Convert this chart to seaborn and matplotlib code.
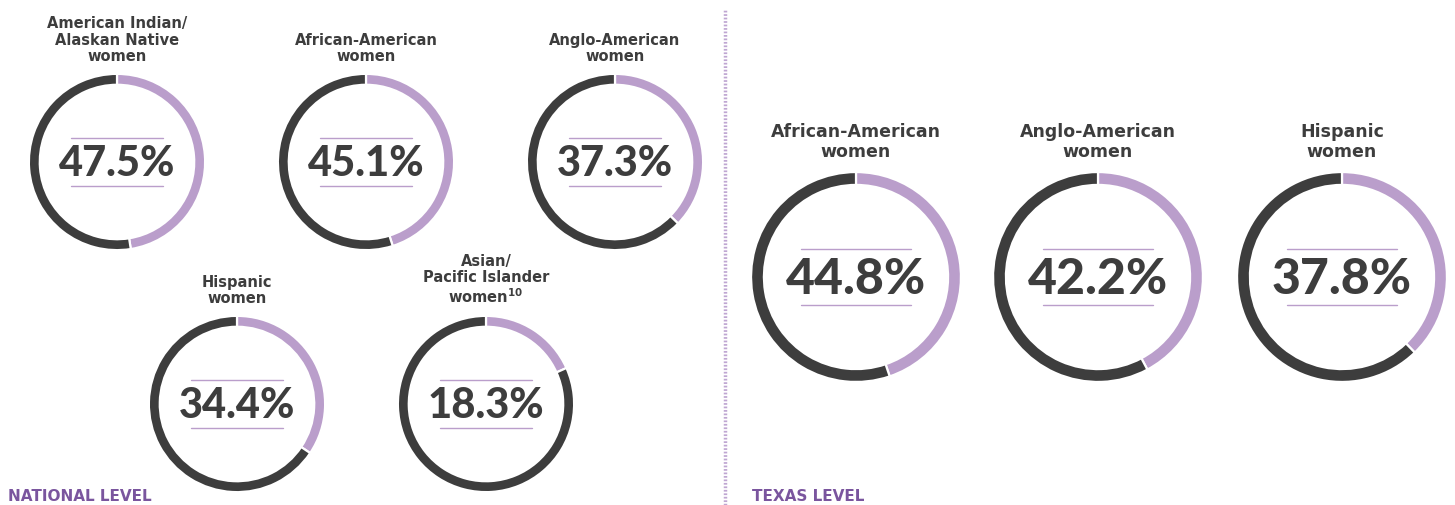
import matplotlib
matplotlib.use("Agg")
import matplotlib.pyplot as plt
import seaborn as sns

# data
national_groups = ["American Indian/\nAlaskan Native\nwomen", "African-American\nwomen",
                   "Anglo-American\nwomen", "Hispanic\nwomen",
                   "Asian/\nPacific Islander\nwomen$^{\\mathbf{10}}$"]
national_values = [47.5, 45.1, 37.3, 34.4, 18.3]
texas_groups = ["African-American\nwomen", "Anglo-American\nwomen", "Hispanic\nwomen"]
texas_values = [44.8, 42.2, 37.8]
section_labels = ["NATIONAL LEVEL", "TEXAS LEVEL"]

sns.set_style('white')
plt.rcParams['font.family'] = ['DejaVu Sans']
plt.rcParams['mathtext.fontset'] = 'dejavusans'

PURPLE = '#BA9ECB'
DARK = '#3D3D3D'
TITLE_PURPLE = '#7A559E'
W, H = 1455, 506

fig = plt.figure(figsize=(W / 100, H / 100), dpi=100)
fig.patch.set_facecolor('white')

# pixel layout (cx, cy)
nat_pos = [(117, 163), (366, 163), (615, 163), (237, 405), (486, 405)]
tex_pos = [(856, 278), (1098, 278), (1342, 278)]


def donut(cx, cy, r, ring, value, label, big, title_size, num_size):
    ax = fig.add_axes([(cx - r) / W, 1 - (cy + r) / H, 2 * r / W, 2 * r / H])
    ax.pie([value, 100 - value], colors=[PURPLE, DARK], startangle=90, counterclock=False,
           radius=1, wedgeprops=dict(width=ring / r, edgecolor='white', linewidth=1.6))
    ax.set_xlim(-1.01, 1.01)
    ax.set_ylim(-1.01, 1.01)
    ax.axis('off')
    ax.text(0, -0.01, f"{value}%", ha='center', va='center', fontsize=num_size,
            fontweight='black', family='Lato', color=DARK)
    lw = 0.52 * r
    gap = 0.27
    for yy in (gap, -gap):
        ax.plot([-lw / r, lw / r], [yy, yy], color=PURPLE, lw=1)
    off = 99 if not big else 117
    fig.text(cx / W, 1 - (cy - off) / H, label, ha='center', va='bottom',
             fontsize=title_size, fontweight='bold', color=DARK, linespacing=1.12)


for (cx, cy), lab, val in zip(nat_pos, national_groups, national_values):
    donut(cx, cy, 89, 11, val, lab, False, 10.5, 30)

for (cx, cy), lab, val in zip(tex_pos, texas_groups, texas_values):
    donut(cx, cy, 106, 13, val, lab, True, 12.5, 36)

# section labels
fig.text(8 / W, 1 - 497 / H, section_labels[0], ha='left', va='center', fontsize=11,
         fontweight='bold', color=TITLE_PURPLE)
fig.text(752 / W, 1 - 497 / H, section_labels[1], ha='left', va='center', fontsize=11,
         fontweight='bold', color=TITLE_PURPLE)

# dotted divider
fig.add_artist(plt.Line2D([725 / W, 725 / W], [0, 1 - 10 / H], color='#BFA6D2',
                          lw=2.5, linestyle=(0, (0.5, 0.5))))

fig.savefig('out.png', dpi=100, facecolor='white')
